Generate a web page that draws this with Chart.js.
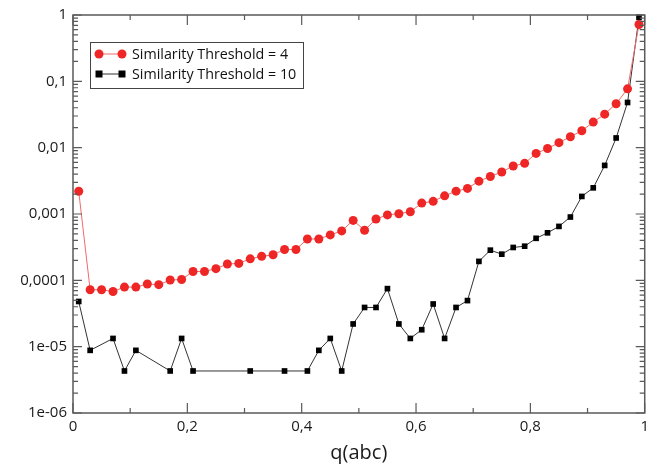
<!DOCTYPE html>
<html>
<head>
<meta charset="utf-8">
<script src="https://cdn.jsdelivr.net/npm/chart.js@4/dist/chart.umd.min.js"></script>
<style>
  html, body { margin: 0; padding: 0; background: #fff; }
  #wrap { width: 654px; height: 465px; }
</style>
</head>
<body>
<div id="wrap"><canvas id="qChart" width="654" height="465"></canvas></div>
<script>
/* Data */
const qValues = [0.01, 0.03, 0.05, 0.07, 0.09, 0.11, 0.13, 0.15, 0.17, 0.19,
                 0.21, 0.23, 0.25, 0.27, 0.29, 0.31, 0.33, 0.35, 0.37, 0.39,
                 0.41, 0.43, 0.45, 0.47, 0.49, 0.51, 0.53, 0.55, 0.57, 0.59,
                 0.61, 0.63, 0.65, 0.67, 0.69, 0.71, 0.73, 0.75, 0.77, 0.79,
                 0.81, 0.83, 0.85, 0.87, 0.89, 0.91, 0.93, 0.95, 0.97, 0.99];

const threshold4 = [2.2e-3, 7.2e-5, 7.2e-5, 6.8e-5, 7.9e-5, 7.9e-5, 8.8e-5, 8.6e-5, 1.01e-4, 1.03e-4,
                    1.36e-4, 1.36e-4, 1.5e-4, 1.76e-4, 1.8e-4, 2.11e-4, 2.3e-4, 2.43e-4, 2.92e-4, 2.92e-4,
                    4.2e-4, 4.2e-4, 4.84e-4, 5.56e-4, 8.0e-4, 5.7e-4, 8.4e-4, 9.7e-4, 1.01e-3, 1.08e-3,
                    1.46e-3, 1.55e-3, 1.88e-3, 2.21e-3, 2.43e-3, 3.13e-3, 3.67e-3, 4.3e-3, 5.3e-3, 5.8e-3,
                    8.2e-3, 9.7e-3, 1.19e-2, 1.46e-2, 1.8e-2, 2.43e-2, 3.2e-2, 4.6e-2, 7.7e-2, 0.72];

// null = no point at that q (zero probability, not shown on log axis)
const threshold10 = [4.8e-5, 8.8e-6, null, 1.33e-5, 4.3e-6, 8.8e-6, null, null, 4.3e-6, 1.33e-5,
                     4.3e-6, null, null, null, null, 4.3e-6, null, null, 4.3e-6, null,
                     4.3e-6, 8.8e-6, 1.33e-5, 4.3e-6, 2.2e-5, 3.9e-5, 3.9e-5, 7.5e-5, 2.2e-5, 1.33e-5,
                     1.8e-5, 4.4e-5, 1.33e-5, 3.9e-5, 4.95e-5, 1.93e-4, 2.85e-4, 2.48e-4, 3.13e-4, 3.27e-4,
                     4.3e-4, 5.2e-4, 6.5e-4, 9.0e-4, 1.84e-3, 2.48e-3, 5.4e-3, 1.4e-2, 4.8e-2, 0.92];

const xTicks = [0, 0.2, 0.4, 0.6, 0.8, 1];
const xTickLabels = ['0', '0,2', '0,4', '0,6', '0,8', '1'];
const xMinorTicks = [0.1, 0.3, 0.5, 0.7, 0.9];
const yTicks = [1e-6, 1e-5, 1e-4, 1e-3, 1e-2, 1e-1, 1];
const yTickLabels = ['1e-06', '1e-05', '0,0001', '0,001', '0,01', '0,1', '1'];

const FONT = "'Open Sans', 'Noto Sans', sans-serif";
const AXIS_COLOR = '#5a5a5a';

const toPoints = (ys) => qValues.map((q, i) => ({ x: q, y: ys[i] }));

/* Frame, inward ticks and legend box */
const framePlugin = {
  id: 'frame',
  afterDraw(chart) {
    const ctx = chart.ctx;
    const a = chart.chartArea;
    const xs = chart.scales.x, ys = chart.scales.y;
    ctx.save();
    ctx.strokeStyle = AXIS_COLOR;
    ctx.lineWidth = 1.5;
    ctx.strokeRect(a.left, a.top, a.right - a.left, a.bottom - a.top);

    ctx.lineWidth = 1.2;
    ctx.beginPath();
    const xTick = (v, len) => {
      const px = xs.getPixelForValue(v);
      ctx.moveTo(px, a.bottom); ctx.lineTo(px, a.bottom - len);
      ctx.moveTo(px, a.top); ctx.lineTo(px, a.top + len);
    };
    const yTick = (v, len) => {
      const py = ys.getPixelForValue(v);
      ctx.moveTo(a.left, py); ctx.lineTo(a.left + len, py);
      ctx.moveTo(a.right, py); ctx.lineTo(a.right - len, py);
    };
    xTicks.forEach(v => xTick(v, 10));
    xMinorTicks.forEach(v => xTick(v, 5));
    yTicks.forEach(v => yTick(v, 9));
    for (let k = -6; k < 0; k++) {
      for (let m = 2; m <= 9; m++) yTick(m * Math.pow(10, k), 5);
    }
    ctx.stroke();

    // legend
    const lx = 90, ly = 42, lw = 213, lh = 46;
    ctx.fillStyle = '#fff';
    ctx.fillRect(lx, ly, lw, lh);
    ctx.strokeStyle = '#444';
    ctx.lineWidth = 1;
    ctx.strokeRect(lx + 0.5, ly + 0.5, lw, lh);
    ctx.font = '14.3px ' + FONT;
    ctx.textBaseline = 'middle';
    chart.data.datasets.forEach((ds, i) => {
      const cy = ly + 12 + i * 20;
      const x1 = lx + 9, x2 = lx + 32;
      ctx.strokeStyle = ds.borderColor;
      ctx.lineWidth = ds.borderWidth;
      ctx.beginPath();
      ctx.moveTo(x1, cy); ctx.lineTo(x2, cy);
      ctx.stroke();
      ctx.fillStyle = ds.pointBackgroundColor;
      [x1, x2].forEach(px => {
        ctx.beginPath();
        if (ds.pointStyle === 'rect') {
          ctx.rect(px - 3.5, cy - 3.5, 7, 7);
        } else {
          ctx.arc(px, cy, 4.5, 0, Math.PI * 2);
        }
        ctx.fill();
      });
      ctx.fillStyle = '#111';
      ctx.fillText(ds.label, lx + 42, cy + 1);
    });
    ctx.restore();
  }
};

const qChart = document.getElementById('qChart');
new Chart(qChart, {
  type: 'line',
  data: {
    datasets: [{
      label: 'Similarity Threshold = 4',
      data: toPoints(threshold4),
      borderColor: '#f26a6a',
      borderWidth: 1,
      pointStyle: 'circle',
      pointRadius: 4.5,
      pointBackgroundColor: '#ee2626',
      pointBorderColor: '#ee2626',
      pointBorderWidth: 0,
      clip: false
    }, {
      label: 'Similarity Threshold = 10',
      data: toPoints(threshold10),
      borderColor: '#333',
      borderWidth: 1,
      pointStyle: 'rect',
      pointRadius: 4,
      pointBackgroundColor: '#000',
      pointBorderColor: '#000',
      pointBorderWidth: 0,
      spanGaps: true,
      clip: false
    }]
  },
  options: {
    responsive: false,
    animation: false,
    layout: { padding: { top: 13, right: 9, left: 0, bottom: 0 } },
    plugins: {
      legend: { display: false },
      tooltip: { enabled: false }
    },
    scales: {
      x: {
        type: 'linear',
        min: 0,
        max: 1,
        afterBuildTicks: s => { s.ticks = xTicks.map(v => ({ value: v })); },
        afterFit: s => { s.height = 52; },
        ticks: {
          autoSkip: false,
          maxRotation: 0,
          padding: 5,
          color: '#1a1a1a',
          font: { family: FONT, size: 15 },
          callback: (v, i) => xTickLabels[i]
        },
        grid: { display: false, drawTicks: false },
        border: { display: false },
        title: {
          display: true,
          text: 'q(abc)',
          color: '#1a1a1a',
          font: { family: FONT, size: 20 },
          padding: { top: 0, bottom: 0 }
        }
      },
      y: {
        type: 'logarithmic',
        min: 1e-6,
        max: 1,
        afterBuildTicks: s => { s.ticks = yTicks.map(v => ({ value: v })); },
        afterFit: s => { s.width = 73; },
        ticks: {
          autoSkip: false,
          padding: 6,
          color: '#1a1a1a',
          font: { family: FONT, size: 15 },
          callback: (v, i) => yTickLabels[i]
        },
        grid: { display: false, drawTicks: false },
        border: { display: false }
      }
    }
  },
  plugins: [framePlugin]
});
</script>
</body>
</html>
